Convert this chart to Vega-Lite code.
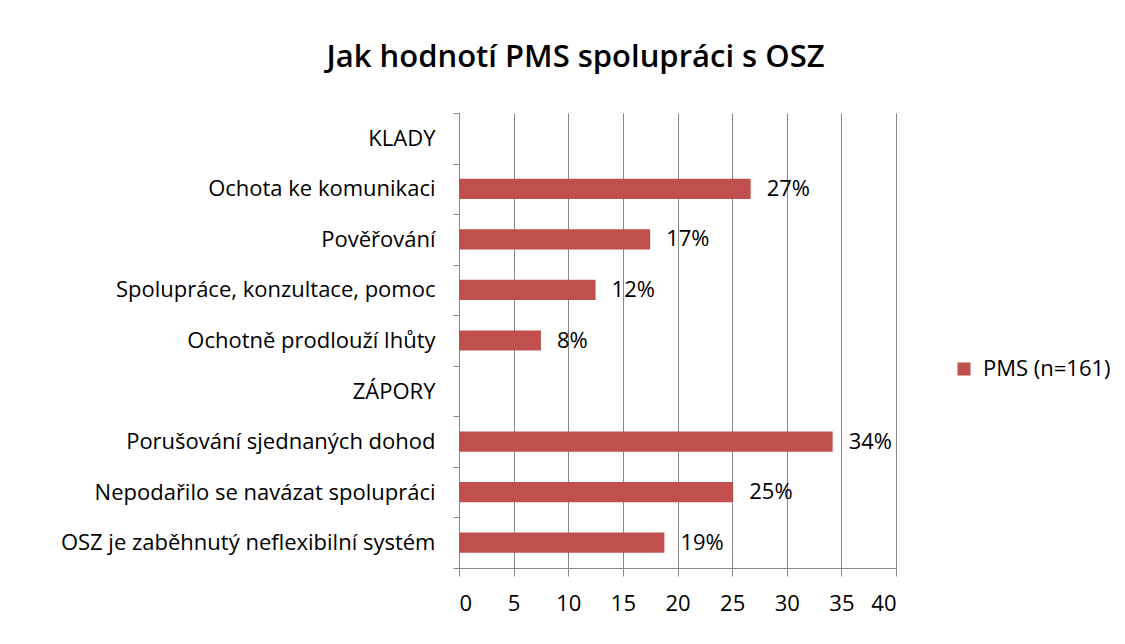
{
  "$schema": "https://vega.github.io/schema/vega-lite/v6.json",
  "width": 437,
  "height": 455,
  "autosize": {"type": "none"},
  "padding": {"left": 459, "top": 113, "right": 229, "bottom": 76},
  "background": "white",
  "title": {
    "text": "Jak hodnotí PMS spolupráci s OSZ",
    "font": "Open Sans",
    "fontSize": 31,
    "fontWeight": 600,
    "color": "#000000",
    "anchor": "middle",
    "frame": "group",
    "dx": -102,
    "offset": 28
  },
  "data": {
    "values": [
      {"cat": "KLADY", "value": null, "label": "", "series": "PMS (n=161)"},
      {"cat": "Ochota ke komunikaci", "value": 26.7, "label": "27%", "series": "PMS (n=161)"},
      {"cat": "Pověřování ", "value": 17.5, "label": "17%", "series": "PMS (n=161)"},
      {"cat": "Spolupráce, konzultace, pomoc", "value": 12.5, "label": "12%", "series": "PMS (n=161)"},
      {"cat": "Ochotně prodlouží lhůty", "value": 7.5, "label": "8%", "series": "PMS (n=161)"},
      {"cat": "ZÁPORY", "value": null, "label": "", "series": "PMS (n=161)"},
      {"cat": "Porušování sjednaných dohod", "value": 34.2, "label": "34%", "series": "PMS (n=161)"},
      {"cat": "Nepodařilo se navázat spolupráci", "value": 25.1, "label": "25%", "series": "PMS (n=161)"},
      {"cat": "OSZ je zaběhnutý neflexibilní systém", "value": 18.8, "label": "19%", "series": "PMS (n=161)"}
    ]
  },
  "encoding": {
    "y": {
      "field": "cat",
      "type": "nominal",
      "sort": null,
      "title": null,
      "scale": {
        "domain": ["KLADY", "Ochota ke komunikaci", "Pověřování ", "Spolupráce, konzultace, pomoc", "Ochotně prodlouží lhůty", "ZÁPORY", "Porušování sjednaných dohod", "Nepodařilo se navázat spolupráci", "OSZ je zaběhnutý neflexibilní systém"],
        "paddingInner": 0,
        "paddingOuter": 0
      },
      "axis": {
        "labelFont": "Open Sans",
        "labelFontSize": 22,
        "labelColor": "#000000",
        "labelPadding": 18,
        "labelLimit": 450,
        "domainColor": "#888888",
        "tickColor": "#888888",
        "tickSize": 6,
        "tickBand": "extent",
        "grid": false
      }
    }
  },
  "layer": [
    {
      "mark": {"type": "bar", "color": "#C0504D", "height": {"band": 0.4}},
      "encoding": {
        "x": {
          "field": "value",
          "type": "quantitative",
          "title": null,
          "scale": {"domain": [0, 40], "nice": false},
          "axis": {
            "values": [0, 5, 10, 15, 20, 25, 30, 35, 40],
            "labelFont": "Open Sans",
            "labelFontSize": 22,
            "labelColor": "#000000",
            "labelPadding": 17,
            "domainColor": "#888888",
            "tickColor": "#888888",
            "tickSize": 8,
            "grid": true,
            "gridColor": "#888888",
            "gridWidth": 1,
            "gridOpacity": 1
          }
        },
        "fill": {
          "field": "series",
          "type": "nominal",
          "scale": {"range": ["#C0504D"]},
          "legend": {
            "title": null,
            "orient": "none",
            "legendX": 494,
            "legendY": 245,
            "symbolType": "square",
            "symbolSize": 170,
            "symbolStrokeWidth": 0,
            "labelFont": "Open Sans",
            "labelFontSize": 22,
            "labelColor": "#000000",
            "labelOffset": 8
          }
        }
      }
    },
    {
      "transform": [{"filter": "datum.value != null"}],
      "mark": {"type": "text", "align": "left", "baseline": "middle", "dx": 16, "font": "Open Sans", "fontSize": 22, "color": "#000000"},
      "encoding": {
        "x": {"field": "value", "type": "quantitative"},
        "text": {"field": "label"}
      }
    }
  ],
  "config": {
    "view": {"stroke": null}
  }
}
